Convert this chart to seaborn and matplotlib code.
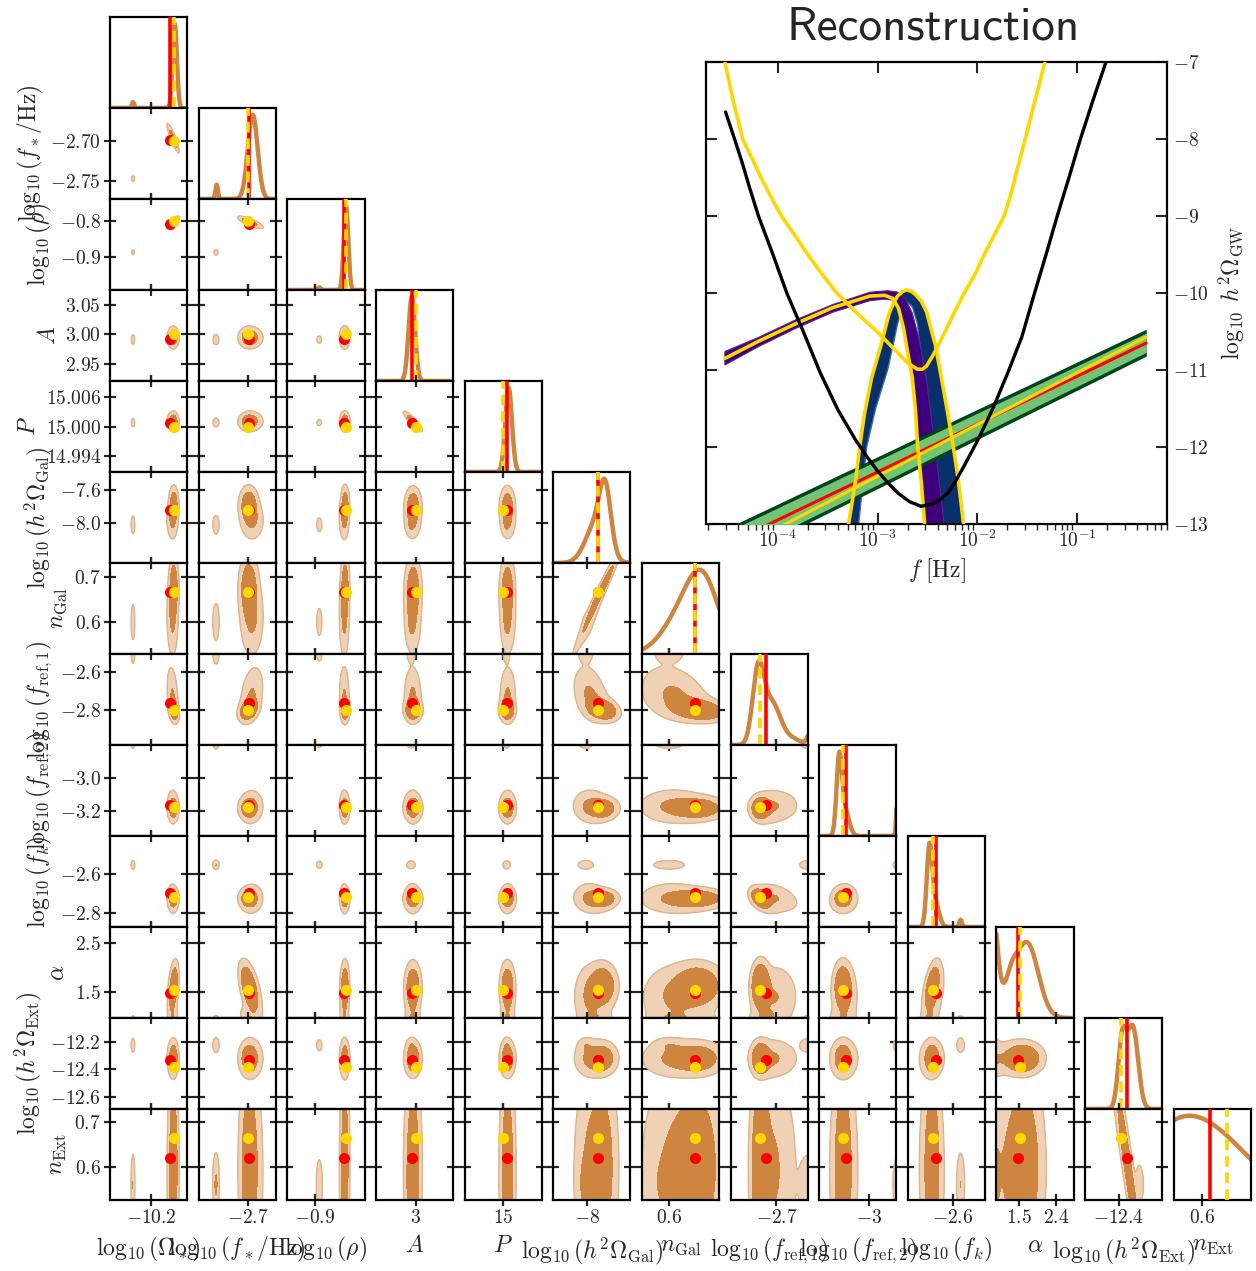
import numpy as np
import matplotlib
matplotlib.use("Agg")
import matplotlib.pyplot as plt
from matplotlib.ticker import FixedLocator, LogLocator, NullFormatter
import seaborn as sns

sns.set_style("white")
plt.rcParams.update({
    "font.family": ["cmr10", "DejaVu Serif"],
    "mathtext.fontset": "cm",
    "axes.unicode_minus": False,
    "axes.edgecolor": "black",
    "axes.linewidth": 1.6,
})

# ---------------- corner-plot parameters ----------------
param_labels = [
    r"$\log_{10}(\Omega_*)$", r"$\log_{10}(f_*/\mathrm{Hz})$", r"$\log_{10}(\rho)$", r"$A$", r"$P$",
    r"$\log_{10}(h^2\Omega_{\mathrm{Gal}})$", r"$n_{\mathrm{Gal}}$", r"$\log_{10}(f_{\mathrm{ref},1})$",
    r"$\log_{10}(f_{\mathrm{ref},2})$", r"$\log_{10}(f_k)$", r"$\alpha$",
    r"$\log_{10}(h^2\Omega_{\mathrm{Ext}})$", r"$n_{\mathrm{Ext}}$"]

lims = [(-10.45, -9.98), (-2.7725, -2.659), (-0.989, -0.7405), (2.921, 3.075),
        (14.99075, 15.00925), (-8.485, -7.38), (0.529, 0.731), (-2.988, -2.504),
        (-3.352, -2.804), (-2.872, -2.405), (0.963, 2.828), (-12.687, -12.028), (0.5256, 0.729)]

xtick_vals = [[-10.2], [-2.7], [-0.9], [3.0], [15.0], [-8.0], [0.6], [-2.7], [-3.0], [-2.6],
              [1.5, 2.4], [-12.4], [0.6]]
xtick_text = [["-10.2"], ["-2.7"], ["-0.9"], ["3"], ["15"], ["-8"], ["0.6"], ["-2.7"], ["-3"],
              ["-2.6"], ["1.5", "2.4"], ["-12.4"], ["0.6"]]
ytick_vals = [[], [-2.75, -2.70], [-0.9, -0.8], [2.95, 3.00, 3.05], [14.994, 15.000, 15.006],
              [-8.0, -7.6], [0.6, 0.7], [-2.8, -2.6], [-3.2, -3.0], [-2.8, -2.6], [1.5, 2.5],
              [-12.6, -12.4, -12.2], [0.6, 0.7]]
ytick_text = [[], ["-2.75", "-2.70"], ["-0.9", "-0.8"], ["2.95", "3.00", "3.05"],
              ["14.994", "15.000", "15.006"], ["-8.0", "-7.6"], ["0.6", "0.7"], ["-2.8", "-2.6"],
              ["-3.2", "-3.0"], ["-2.8", "-2.6"], ["1.5", "2.5"], ["-12.6", "-12.4", "-12.2"],
              ["0.6", "0.7"]]

truth_vals = [-10.083, -2.699, -0.808, 2.992, 15.0008, -7.84, 0.667, -2.766, -3.165, -2.70, 1.48,
              -12.33, 0.62]
recon_vals = [-10.062, -2.700, -0.800, 3.000, 15.0000, -7.84, 0.667, -2.802, -3.18, -2.718, 1.54,
              -12.38, 0.665]

# 1D marginal shapes: (centre, width, relative height)
diag_means = [[-10.056, -10.31], [-2.693, -2.746], [-0.800, -0.886], [2.9925], [15.0013],
              [-7.74, -7.87], [0.69, 0.63], [-2.815, -2.73, -2.60, -2.47], [-3.21, -3.17, -2.79],
              [-2.742, -2.71, -2.553], [0.80, 1.30, 1.70], [-12.37, -12.28], [0.60, 0.50]]
diag_sigmas = [[0.013, 0.007], [0.0072, 0.0018], [0.0072, 0.005], [0.0065], [0.0008],
               [0.08, 0.15], [0.042, 0.05], [0.035, 0.055, 0.05, 0.025], [0.019, 0.03, 0.01],
               [0.016, 0.025, 0.008], [0.15, 0.15, 0.27], [0.035, 0.045], [0.12, 0.08]]
diag_heights = [[1.0, 0.07], [1.0, 0.17], [1.0, 0.03], [1.0], [1.0],
                [1.0, 0.7], [1.0, 0.5], [1.0, 0.6, 0.08, 0.3], [1.0, 0.35, 1.0],
                [1.0, 0.35, 0.1], [1.6, 0.3, 0.83], [0.85, 1.0], [1.0, 0.3]]

# 2D posterior description: mixture of modes (weights, centres, widths)
mode_weights = [0.55, 0.30, 0.11, 0.04]
mode_means = [
    [-10.062, -2.699, -0.803, 2.995, 15.0010, -7.78, 0.675, -2.80, -3.185, -2.725, 1.62, -12.32, 0.60],
    [-10.070, -2.694, -0.806, 2.994, 15.0011, -7.97, 0.61, -2.71, -3.17, -2.72, 1.40, -12.32, 0.59],
    [-10.066, -2.697, -0.804, 2.995, 15.0010, -7.85, 0.64, -2.77, -3.19, -2.75, 0.90, -12.33, 0.60],
    [-10.31, -2.747, -0.886, 2.991, 15.0008, -8.02, 0.60, -2.50, -2.79, -2.553, 0.85, -12.225, 0.56]]
mode_sigmas = [
    [0.013, 0.0062, 0.0060, 0.0075, 0.0008, 0.10, 0.032, 0.026, 0.03, 0.022, 0.22, 0.055, 0.10],
    [0.016, 0.008, 0.0072, 0.008, 0.0009, 0.11, 0.04, 0.07, 0.045, 0.035, 0.32, 0.065, 0.11],
    [0.015, 0.0075, 0.0068, 0.008, 0.0009, 0.12, 0.05, 0.05, 0.05, 0.03, 0.15, 0.07, 0.11],
    [0.006, 0.0024, 0.006, 0.005, 0.0005, 0.06, 0.022, 0.03, 0.02, 0.012, 0.08, 0.028, 0.035]]
mode_correlated = [True, True, True, False]
corr_pairs = [(0, 1, -0.9), (0, 2, 0.8), (1, 2, -0.8), (3, 4, -0.9), (5, 6, 0.97),
              (11, 12, -0.95), (1, 10, -0.5), (9, 10, 0.5), (0, 10, 0.35), (7, 9, -0.4),
              (0, 7, -0.3), (1, 7, 0.3), (5, 7, -0.25), (6, 7, -0.25)]

# ---------------- reconstruction panel data (log10 f, log10 h^2 Omega) ----------------
noise_logf = [-4.525, -4.44, -4.36, -4.28, -4.195, -4.05, -3.911, -3.752, -3.574, -3.397, -3.22,
              -3.11, -3.007, -2.90, -2.794, -2.68, -2.564, -2.45, -2.37, -2.298, -2.22, -2.138,
              -2.06, -1.979, -1.837, -1.695, -1.553, -1.43, -1.31, -1.198, -1.08, -0.968, -0.84,
              -0.709]
noise_val = [-7.65, -7.98, -8.3, -8.65, -9.0, -9.5, -10.0, -10.48, -11.04, -11.52, -11.91, -12.12,
             -12.30, -12.46, -12.60, -12.71, -12.77, -12.74, -12.68, -12.60, -12.45, -12.26, -12.07,
             -11.87, -11.48, -11.04, -10.57, -10.02, -9.5, -9.0, -8.5, -8.01, -7.5, -7.0]
sens_logf = [-4.532, -4.49, -4.45, -4.40, -4.354, -4.26, -4.17, -4.07, -3.964, -3.83, -3.70, -3.56,
             -3.41, -3.20, -3.007, -2.90, -2.794, -2.688, -2.60, -2.55, -2.51, -2.44, -2.34, -2.24,
             -2.13, -2.02, -1.93, -1.83, -1.73, -1.67, -1.62, -1.57, -1.518, -1.47, -1.42, -1.37,
             -1.323]
sens_val = [-7.0, -7.25, -7.5, -7.75, -8.0, -8.25, -8.5, -8.75, -9.0, -9.25, -9.5, -9.75, -10.0,
            -10.27, -10.5, -10.64, -10.78, -10.92, -10.99, -10.99, -10.95, -10.80, -10.55, -10.28,
            -10.0, -9.75, -9.5, -9.25, -9.0, -8.75, -8.5, -8.25, -8.0, -7.75, -7.5, -7.25, -7.0]

ext_logf = [-4.52, -0.305]
ext_outer_hi = [-13.06, -10.47]
ext_outer_lo = [-13.51, -10.82]
ext_inner_hi = [-13.11, -10.52]
ext_inner_lo = [-13.46, -10.77]
ext_truth = [-13.27, -10.65]
ext_recon = [-13.40, -10.57]

gal_up_logf = [-4.532, -4.2, -3.823, -3.45, -3.078, -2.90, -2.794, -2.72, -2.652, -2.58, -2.51,
               -2.422, -2.333, -2.30]
gal_up_val = [-10.76, -10.58, -10.35, -10.15, -9.99, -9.97, -9.99, -10.08, -10.26, -10.62, -11.13,
              -12.0, -13.0, -13.4]
gal_lo_logf = [-4.532, -4.2, -3.823, -3.45, -3.078, -2.93, -2.847, -2.79, -2.741, -2.70, -2.652,
               -2.62, -2.599, -2.56, -2.528, -2.51]
gal_lo_val = [-10.935, -10.70, -10.46, -10.25, -10.10, -10.08, -10.09, -10.22, -10.48, -10.78,
              -11.13, -11.55, -12.0, -12.5, -13.0, -13.3]
gal_line_val = [-10.85, -10.63, -10.40, -10.19, -10.04, -10.03, -10.07, -10.20, -10.45, -10.76,
                -11.10, -11.52, -11.98, -12.48, -13.0, -13.3]

bump_out_logf = [-3.36, -3.291, -3.22, -3.18, -3.131, -3.06, -2.971, -2.883, -2.84, -2.80, -2.75,
                 -2.706, -2.66, -2.62, -2.56, -2.51, -2.42, -2.36, -2.298, -2.24, -2.191, -2.138,
                 -2.10]
bump_out_val = [-13.5, -13.0, -12.43, -12.0, -11.56, -11.1, -10.70, -10.26, -10.13, -10.04, -9.98,
                -9.96, -9.98, -10.02, -10.11, -10.24, -10.68, -11.1, -11.55, -12.0, -12.42, -13.0,
                -13.5]
bump_in_logf = [-3.24, -3.19, -3.15, -3.11, -3.02, -2.90, -2.84, -2.80, -2.75, -2.70, -2.65, -2.60,
                -2.56, -2.535, -2.52, -2.505, -2.495, -2.48]
bump_in_val = [-13.5, -13.0, -12.5, -12.0, -11.5, -11.0, -10.65, -10.4, -10.2, -10.12, -10.18,
               -10.4, -10.9, -11.5, -12.0, -12.5, -13.0, -13.5]

# ---------------- styling ----------------
PERU = "#CD853F"
LIGHT = "#EFD2B6"
LIGHT_EDGE = "#DDB48C"
GOLD = "#FFD700"
RED = "#FF0000"

N = len(param_labels)
corr = np.eye(N)
for a, b, r in corr_pairs:
    corr[a, b] = corr[b, a] = r


def density2d(i, j, X, Y):
    Z = np.zeros_like(X)
    for c, w in enumerate(mode_weights):
        mx, sx = mode_means[c][j], mode_sigmas[c][j]
        my, sy = mode_means[c][i], mode_sigmas[c][i]
        r = corr[i, j] if mode_correlated[c] else 0.0
        u = (X - mx) / sx
        v = (Y - my) / sy
        q = (u * u - 2 * r * u * v + v * v) / (1 - r * r)
        Z += w * np.exp(-0.5 * q) / (2 * np.pi * sx * sy * np.sqrt(1 - r * r))
    return Z


fig = plt.figure(figsize=(12.56, 12.71), dpi=100)
gs = fig.add_gridspec(N, N, left=110 / 1256, right=1251 / 1256, top=1 - 17 / 1271,
                      bottom=1 - 1200 / 1271, wspace=0.148, hspace=0.0)

for i in range(N):
    for j in range(i + 1):
        ax = fig.add_subplot(gs[i, j])
        for s in ax.spines.values():
            s.set_linewidth(1.6)
        x0, x1 = lims[j]
        if i == j:
            xs = np.linspace(x0, x1, 500)
            ys = np.zeros_like(xs)
            for m, s, h in zip(diag_means[i], diag_sigmas[i], diag_heights[i]):
                ys += h * np.exp(-0.5 * ((xs - m) / s) ** 2)
            ys /= ys.max()
            sns.lineplot(x=xs, y=ys, ax=ax, color=PERU, lw=3.2, zorder=2)
            ax.axvline(truth_vals[i], color=RED, lw=2.6, zorder=3)
            ax.axvline(recon_vals[i], color=GOLD, lw=2.6, ls=(0, (3, 1.6)), zorder=4)
            ax.set_xlim(x0, x1)
            ax.set_ylim(0, 1.08)
            ax.set_yticks([])
            ax.xaxis.set_major_locator(FixedLocator(xtick_vals[j]))
            ax.tick_params(axis="x", which="major", direction="inout", length=9, width=1.6,
                           bottom=True, top=False, labelbottom=False, labelsize=14, pad=2)
            ax.tick_params(axis="y", left=False, right=False)
        else:
            y0, y1 = lims[i]
            W, H = x1 - x0, y1 - y0
            gx = np.linspace(x0 - 2 * W, x1 + 2 * W, 380)
            gy = np.linspace(y0 - 2 * H, y1 + 2 * H, 380)
            X, Y = np.meshgrid(gx, gy)
            Z = density2d(i, j, X, Y)
            dA = (gx[1] - gx[0]) * (gy[1] - gy[0])
            zf = np.sort(Z.ravel())[::-1]
            cm = np.cumsum(zf) * dA
            l68 = zf[min(np.searchsorted(cm, 0.68), zf.size - 1)]
            l95 = zf[min(np.searchsorted(cm, 0.95), zf.size - 1)]
            ax.contourf(X, Y, Z, levels=[l95, l68, Z.max() * 1.01], colors=[LIGHT, PERU], zorder=1)
            ax.contour(X, Y, Z, levels=[l95], colors=[LIGHT_EDGE], linewidths=1.0, zorder=2)
            ax.plot(truth_vals[j], truth_vals[i], "o", color=RED, ms=8, mec="none", zorder=5)
            ax.plot(recon_vals[j], recon_vals[i], "o", color=GOLD, ms=8, mec="none", zorder=6)
            ax.set_xlim(x0, x1)
            ax.set_ylim(y0, y1)
            ax.xaxis.set_major_locator(FixedLocator(xtick_vals[j]))
            ax.yaxis.set_major_locator(FixedLocator(ytick_vals[i]))
            ax.tick_params(which="major", direction="inout", length=9, width=1.6, top=True,
                           bottom=True, left=True, right=True, labelbottom=False, labelleft=False,
                           labelsize=14, pad=2)
        if i == N - 1:
            ax.set_xticks(xtick_vals[j], [f"${t}$" for t in xtick_text[j]])
            ax.tick_params(axis="x", labelbottom=True, labelsize=14)
            ax.set_xlabel(param_labels[j], fontsize=17, labelpad=6)
        if j == 0 and i > 0:
            ax.set_yticks(ytick_vals[i], [f"${t}$" for t in ytick_text[i]])
            ax.tick_params(axis="y", labelleft=True, labelsize=14)
            ax.set_ylabel(param_labels[i], fontsize=17, labelpad=4)

# ---------------- reconstruction inset ----------------
axr = fig.add_axes([706 / 1256, 1 - 524 / 1271, 461 / 1256, 462 / 1271])
for s in axr.spines.values():
    s.set_linewidth(1.6)


def F(lf):
    return 10.0 ** np.asarray(lf)


axr.fill(np.concatenate([F(bump_out_logf), F(bump_in_logf)[::-1]]),
         np.concatenate([bump_out_val, bump_in_val[::-1]]),
         facecolor="#08306B", edgecolor="#3B6BA8", lw=1.0, zorder=1)
axr.fill(np.concatenate([F(gal_up_logf), F(gal_lo_logf)[::-1]]),
         np.concatenate([gal_up_val, gal_lo_val[::-1]]),
         facecolor="#3F007D", edgecolor="#54278F", lw=0.8, zorder=2)
axr.fill_between(F(ext_logf), ext_outer_lo, ext_outer_hi, color="#00441B", lw=0, zorder=3)
axr.fill_between(F(ext_logf), ext_inner_lo, ext_inner_hi, color="#74C476", lw=0, zorder=3.5)
axr.plot(F(ext_logf), ext_truth, color=RED, lw=2.2, zorder=4)
axr.plot(F(ext_logf), ext_recon, color=GOLD, lw=2.2, zorder=4.5)
axr.plot(F(gal_lo_logf), gal_line_val, color=GOLD, lw=2.6, zorder=5, solid_joinstyle="round")
axr.plot(F(bump_out_logf), bump_out_val, color=GOLD, lw=2.6, zorder=5, solid_joinstyle="round")
axr.plot(F(sens_logf), sens_val, color=GOLD, lw=2.6, zorder=6, solid_joinstyle="round")
axr.plot(F(noise_logf), noise_val, color="black", lw=2.4, zorder=7, solid_joinstyle="round")

axr.set_xscale("log")
axr.set_xlim(1.9e-5, 0.8)
axr.set_ylim(-13, -7)
axr.set_xticks([1e-4, 1e-3, 1e-2, 1e-1], [r"$10^{-4}$", r"$10^{-3}$", r"$10^{-2}$", r"$10^{-1}$"])
axr.xaxis.set_minor_locator(LogLocator(base=10, subs=np.arange(2, 10), numticks=20))
axr.xaxis.set_minor_formatter(NullFormatter())
axr.set_yticks([-13, -12, -11, -10, -9, -8, -7],
               [r"$-13$", r"$-12$", r"$-11$", r"$-10$", r"$-9$", r"$-8$", r"$-7$"])
axr.yaxis.tick_right()
axr.yaxis.set_label_position("right")
axr.tick_params(which="major", direction="in", length=8, width=1.5, top=True, bottom=True,
                left=True, right=True, labelleft=False, labelright=True, labelsize=14, pad=4)
axr.tick_params(axis="x", which="minor", direction="out", length=4, width=1.0, bottom=True, top=False)
axr.set_xlabel(r"$f\;[\mathrm{Hz}]$", fontsize=17, labelpad=4)
axr.set_ylabel(r"$\log_{10}\;h^2\Omega_{\mathrm{GW}}$", fontsize=17, labelpad=6)

fig.text(933 / 1256, 1 - 28 / 1271, "Reconstruction", fontfamily="cmss10", fontsize=34,
         ha="center", va="center")

fig.savefig("out.png", dpi=100)
